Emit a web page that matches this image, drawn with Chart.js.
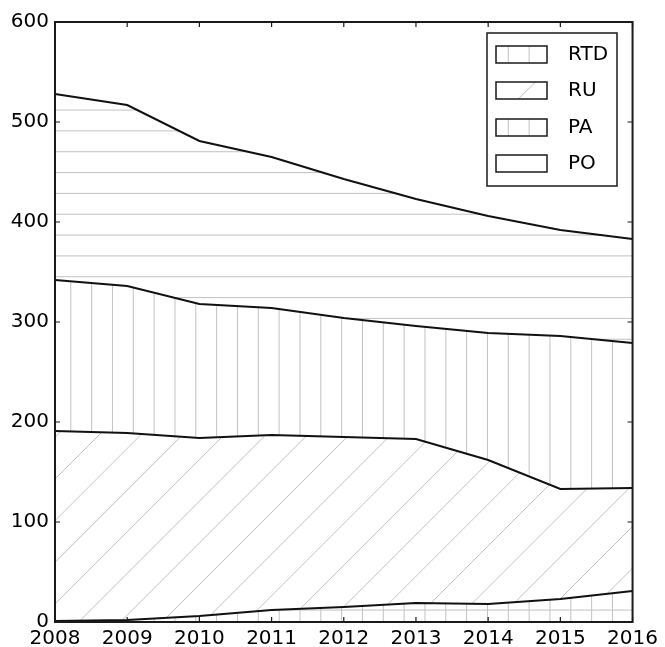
<!DOCTYPE html>
<html>
<head>
<meta charset="utf-8">
<script src="https://cdn.jsdelivr.net/npm/chart.js@4.4.1/dist/chart.umd.min.js"></script>
<style>
  html, body { margin: 0; padding: 0; background: #fff; }
  #wrap { width: 665px; height: 647px; }
</style>
</head>
<body>
<div id="wrap"><canvas id="c" width="665" height="647"></canvas></div>
<script>
// ---- data ----
const years = ['2008','2009','2010','2011','2012','2013','2014','2015','2016'];
const PO  = [1, 2, 6, 12, 15, 19, 18, 23, 31];
const RU  = [190, 187, 178, 175, 170, 164, 144, 110, 103];
const PA  = [151, 147, 134, 127, 119, 113, 127, 153, 145];
const RTD = [186, 181, 163, 151, 139, 127, 117, 106, 104];
const yTicks = [0, 100, 200, 300, 400, 500, 600];
const legendNames = ['RTD', 'RU', 'PA', 'PO'];

// ---- hatch patterns (aligned to canvas origin) ----
const HATCH = '#c2c2c2';
function makePattern(kinds) {
  const S = 125;
  const cv = document.createElement('canvas');
  cv.width = S; cv.height = S;
  const g = cv.getContext('2d');
  g.fillStyle = '#ffffff';
  g.fillRect(0, 0, S, S);
  g.strokeStyle = HATCH;
  g.lineWidth = 1;
  const p = S / 6;
  g.beginPath();
  if (kinds.includes('-')) {
    for (let k = -1; k <= 7; k++) { const y = 5.9 + k * p; g.moveTo(0, y); g.lineTo(S, y); }
  }
  if (kinds.includes('|')) {
    for (let k = -1; k <= 7; k++) { const x = 8.3 + k * p; g.moveTo(x, 0); g.lineTo(x, S); }
  }
  if (kinds.includes('/')) {
    for (let k = -2; k <= 7; k++) { const c = 34 + k * (S / 3); g.moveTo(c + 20, -20); g.lineTo(c - 270, 270); }
  }
  g.stroke();
  return document.getElementById('c').getContext('2d').createPattern(cv, 'repeat');
}
const patH = makePattern('-');
const patV = makePattern('|');
const patD = makePattern('/');
const patG = makePattern('-|');

const legendFills = [patV, patD, patV, '#ffffff'];

const FONT = "'DejaVu Sans', sans-serif";

const framePlugin = {
  id: 'frame',
  afterDraw(chart) {
    const { ctx, chartArea: a, scales } = chart;
    ctx.save();
    ctx.strokeStyle = '#1a1a1a';
    ctx.lineWidth = 1.2;
    const L = 5;
    ctx.beginPath();
    scales.x.ticks.forEach((t, i) => {
      const x = scales.x.getPixelForTick(i);
      ctx.moveTo(x, a.bottom); ctx.lineTo(x, a.bottom - L);
      ctx.moveTo(x, a.top); ctx.lineTo(x, a.top + L);
    });
    yTicks.forEach(v => {
      const y = scales.y.getPixelForValue(v);
      ctx.moveTo(a.left, y); ctx.lineTo(a.left + L, y);
      ctx.moveTo(a.right, y); ctx.lineTo(a.right - L, y);
    });
    ctx.stroke();
    ctx.lineWidth = 2;
    ctx.strokeRect(a.left, a.top, a.right - a.left, a.bottom - a.top);

    // legend
    const bx = 487, by = 33, bw = 130, bh = 153;
    ctx.fillStyle = '#ffffff';
    ctx.fillRect(bx, by, bw, bh);
    ctx.lineWidth = 1.5;
    ctx.strokeRect(bx, by, bw, bh);
    const rows = [54, 90, 127, 163];
    ctx.font = '20px ' + FONT;
    ctx.textBaseline = 'middle';
    ctx.textAlign = 'left';
    legendNames.forEach((n, i) => {
      const y = rows[i];
      ctx.fillStyle = legendFills[i];
      ctx.fillRect(496, y - 8, 51, 17);
      ctx.lineWidth = 1.5;
      ctx.strokeStyle = '#1a1a1a';
      ctx.strokeRect(496, y - 8, 51, 17);
      ctx.fillStyle = '#000';
      ctx.fillText(n, 568, y + 1);
    });
    ctx.restore();
  }
};

const bgPlugin = {
  id: 'bg',
  beforeDraw(chart) {
    const ctx = chart.ctx;
    ctx.save();
    ctx.fillStyle = '#fff';
    ctx.fillRect(0, 0, chart.width, chart.height);
    ctx.restore();
  }
};

function ds(label, data, pat, fill) {
  return {
    label, data, fill,
    backgroundColor: pat,
    borderColor: '#111',
    borderWidth: 2,
    pointRadius: 0,
    tension: 0
  };
}

new Chart(document.getElementById('c'), {
  type: 'line',
  data: {
    labels: years,
    datasets: [
      ds('PO', PO, patG, 'origin'),
      ds('RU', RU, patD, '-1'),
      ds('PA', PA, patV, '-1'),
      ds('RTD', RTD, patH, '-1')
    ]
  },
  options: {
    responsive: false,
    animation: false,
    layout: { padding: { top: 22, right: 31, left: 0, bottom: 0 } },
    plugins: { legend: { display: false }, tooltip: { enabled: false } },
    scales: {
      x: {
        type: 'category',
        offset: false,
        grid: { display: false, drawTicks: false },
        border: { display: false },
        ticks: { color: '#000', font: { family: FONT, size: 20, lineHeight: 1 }, padding: 7, maxRotation: 0, autoSkip: false },
        afterFit(s) { s.height = 25; }
      },
      y: {
        stacked: true,
        min: 0, max: 600,
        grid: { display: false, drawTicks: false },
        border: { display: false },
        afterBuildTicks(s) { s.ticks = yTicks.map(v => ({ value: v })); },
        ticks: { color: '#000', font: { family: FONT, size: 20 }, padding: 6 },
        afterFit(s) { s.width = 55; }
      }
    }
  },
  plugins: [bgPlugin, framePlugin]
});
</script>
</body>
</html>
